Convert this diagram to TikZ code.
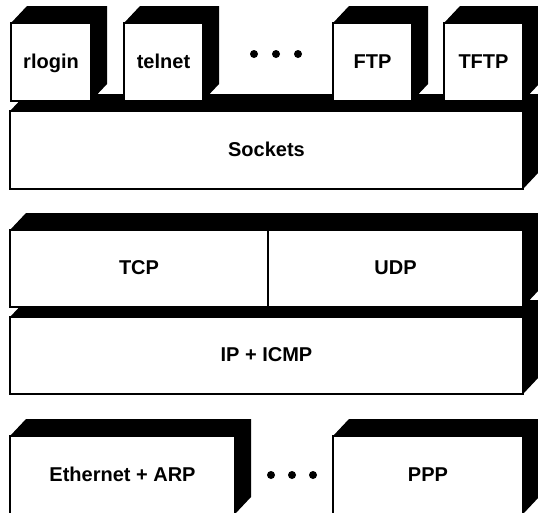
\documentclass[tikz,border=0pt]{standalone}
\usepackage{fontspec}
\setmainfont{Liberation Sans}
\def\bdx{16}
\def\bdy{17}
\newcommand\extrude[4]{\fill[extr] (#1,#2) -- (#1+\bdx,#2-\bdy) -- (#3+\bdx,#2-\bdy) -- (#3+\bdx,#4-\bdy) -- (#3,#4) -- (#3,#2) -- cycle;}
\newcommand\slab[6]{\extrude{#2}{#3}{#4}{#5}\node[face, minimum width=#4-#2, minimum height=#5-#3] (#1) at ({(#2+#4)/2},{(#3+#5)/2}) {#6};}
\begin{document}
\begin{tikzpicture}[x=1pt,y=-1pt,
  face/.style={draw=black, fill=white, line width=1.2pt, inner sep=0pt,
    text height=15pt, text depth=3pt,
    font=\fontsize{20}{24}\selectfont\bfseries},
  extr/.style={fill=black},
  dot/.style={fill=black}]
\useasboundingbox (0,0) rectangle (538,512);
% application layer
\slab{sockets}{10}{111}{523}{189}{Sockets}
\slab{rlogin}{11}{23}{91}{101}{rlogin}
\slab{telnet}{124}{23}{203}{101}{telnet}
\slab{ftp}{333}{23}{412}{101}{FTP}
\slab{tftp}{444}{23}{523}{101}{TFTP}
\foreach \x in {254,276,298} \fill[dot] (\x,54) circle (4);
% transport / network
\slab{ip}{10}{317}{523}{394}{IP + ICMP}
\extrude{10}{230}{523}{307}
\node[face, minimum width=258, minimum height=77] (tcp) at (139,268.5) {TCP};
\node[face, minimum width=255, minimum height=77] (udp) at (395.5,268.5) {UDP};
% link layer
\slab{eth}{10}{436}{235}{514}{Ethernet + ARP}
\slab{ppp}{333}{436}{523}{514}{PPP}
\foreach \x in {271,292,313} \fill[dot] (\x,475) circle (4);
\end{tikzpicture}
\end{document}
